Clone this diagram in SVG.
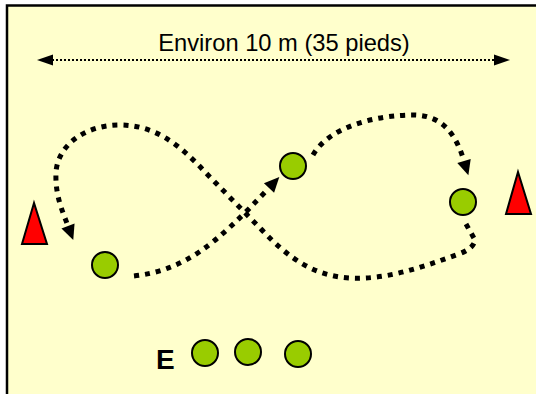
<svg xmlns="http://www.w3.org/2000/svg" width="536" height="394" viewBox="0 0 536 394">
  <style>
    .path { fill: none; stroke: #000; stroke-width: 5; stroke-dasharray: 5 6; }
    .ball { fill: #99CC00; stroke: #000; stroke-width: 2; }
    .cone { fill: #FF0000; stroke: #000; stroke-width: 2; stroke-linejoin: miter; }
    .label { font-family: "Liberation Sans", Arial, sans-serif; fill: #000; }
  </style>
  <defs>
    <marker id="arrow" markerUnits="userSpaceOnUse" markerWidth="15" markerHeight="14" viewBox="0 -7 15 14" refX="0" refY="0" orient="auto" overflow="visible">
      <path d="M0,-7 L15,0 L0,7 z" fill="#000"/>
    </marker>
    <marker id="dimArrow" markerUnits="userSpaceOnUse" markerWidth="15" markerHeight="12" viewBox="0 -6 15 12" refX="0" refY="0" orient="auto" overflow="visible">
      <path d="M0,-5.5 L15,0 L0,5.5 z" fill="#000"/>
    </marker>
  </defs>
  <rect x="0" y="0" width="536" height="394" fill="#FFFFFF"/>
  <rect id="field" x="7" y="5.5" width="540" height="400" fill="#FFFFCC" stroke="#000" stroke-width="2.5"/>

  <g id="dimension">
    <line x1="52" y1="60" x2="495" y2="60" stroke="#000" stroke-width="2" stroke-dasharray="2 2"/>
    <path d="M37,60 L53,54.5 L53,65.5 z" fill="#000"/>
    <path d="M510,60 L494,54.5 L494,65.5 z" fill="#000"/>
    <text class="label" x="284" y="51" font-size="23.7" text-anchor="middle">Environ 10 m (35 pieds)</text>
  </g>

  <g id="connectors">
    <path class="path" d="M134,276 C185,270 215,245 269,188" marker-end="url(#arrow)"/>
    <path class="path" d="M313,155 C330,125 380,115 413,115 C445,115 457,138 464,161" marker-end="url(#arrow)"/>
    <path class="path" d="M466,224 L475,240 Q474,249 456,255 C420,268 385,280 350,278 C315,276 290,260 260,228 L205,172 C180,145 155,125 120,125 C85,125 58,145 56,172 C55,195 62,210 68,226" marker-end="url(#arrow)"/>
  </g>

  <g id="cone-left">
    <polygon class="cone" points="34,203 22,244 47,244"/>
  </g>
  <g id="cone-right">
    <polygon class="cone" points="518,172 506,214 531,214"/>
  </g>

  <g id="ball-1"><circle class="ball" cx="105" cy="265" r="13"/></g>
  <g id="ball-2"><circle class="ball" cx="293" cy="166" r="13"/></g>
  <g id="ball-3"><circle class="ball" cx="463" cy="202" r="13"/></g>

  <g id="start">
    <text class="label" x="156" y="369" font-size="28" font-weight="bold">E</text>
    <circle class="ball" cx="205" cy="353" r="13"/>
    <circle class="ball" cx="248" cy="352" r="13"/>
    <circle class="ball" cx="298" cy="354" r="13"/>
  </g>
</svg>
